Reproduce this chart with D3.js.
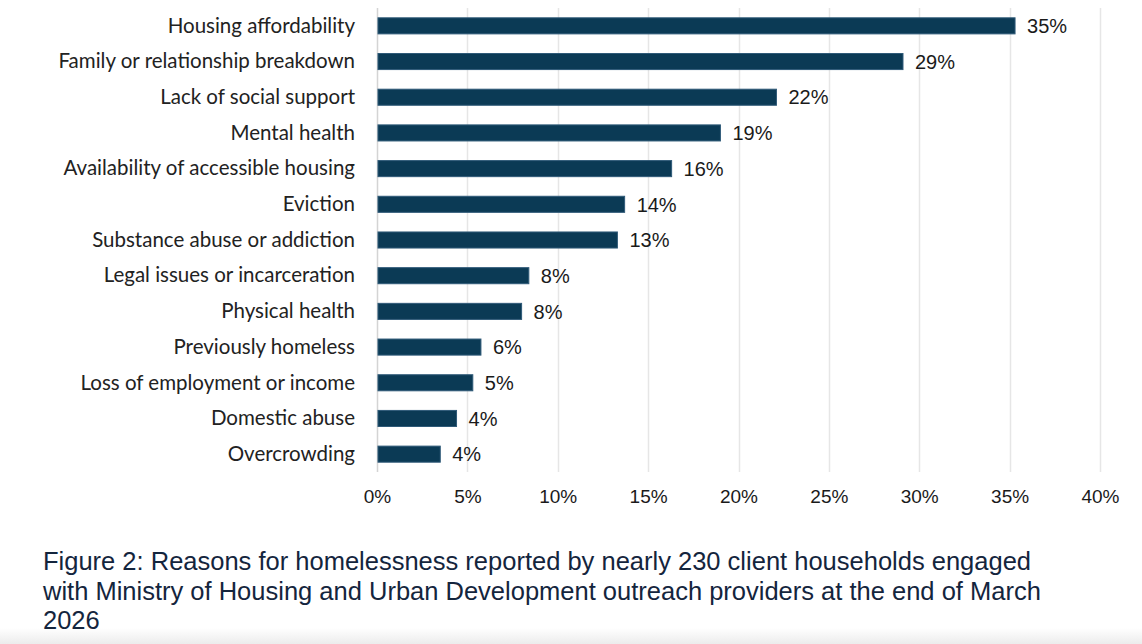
<!DOCTYPE html>
<html>
<head>
<meta charset="utf-8">
<script src="https://cdn.jsdelivr.net/npm/d3@7"></script>
<style>
  body { margin: 0; background: #fff; }
  svg { display: block; }
</style>
</head>
<body>
<div id="chart"></div>
<script>
var svgWidth = 1142;
var svgHeight = 644;

var categories = [
  "Housing affordability",
  "Family or relationship breakdown",
  "Lack of social support",
  "Mental health",
  "Availability of accessible housing",
  "Eviction",
  "Substance abuse or addiction",
  "Legal issues or incarceration",
  "Physical health",
  "Previously homeless",
  "Loss of employment or income",
  "Domestic abuse",
  "Overcrowding"
];
var values = [35.3, 29.1, 22.1, 19.0, 16.3, 13.7, 13.3, 8.4, 8.0, 5.75, 5.3, 4.4, 3.5];
var valueLabels = ["35%", "29%", "22%", "19%", "16%", "14%", "13%", "8%", "8%", "6%", "5%", "4%", "4%"];
var xTicks = [0, 5, 10, 15, 20, 25, 30, 35, 40];

var captionLines = [
  "Figure 2: Reasons for homelessness reported by nearly 230 client households engaged",
  "with Ministry of Housing and Urban Development outreach providers at the end of March",
  "2026"
];

var margin = { top: 8, left: 377, right: 42 };
var plotHeight = 464;
var width = svgWidth - margin.left - margin.right;

var svg = d3.select("#chart")
  .append("svg")
  .attr("width", svgWidth)
  .attr("height", svgHeight);

// faint shadow at the very bottom, like the screenshot
var grad = svg.append("defs").append("linearGradient")
  .attr("id", "fade")
  .attr("x1", 0).attr("y1", 0).attr("x2", 0).attr("y2", 1);
grad.append("stop").attr("offset", "0%").attr("stop-color", "#fff");
grad.append("stop").attr("offset", "100%").attr("stop-color", "#ececec");
svg.append("rect")
  .attr("x", 0).attr("y", 628)
  .attr("width", svgWidth).attr("height", 16)
  .attr("fill", "url(#fade)");

var chartGroup = svg.append("g")
  .attr("transform", `translate(${margin.left}, ${margin.top})`);

var x = d3.scaleLinear()
  .domain([0, 40])
  .range([0, width]);

var y = d3.scaleBand()
  .domain(categories)
  .range([0, plotHeight])
  .paddingInner(0.55)
  .paddingOuter(0.275);

// gridlines
chartGroup.append("g")
  .selectAll("line")
  .data(xTicks)
  .enter()
  .append("line")
  .attr("x1", d => Math.round(x(d)) + 0.5)
  .attr("x2", d => Math.round(x(d)) + 0.5)
  .attr("y1", 0)
  .attr("y2", plotHeight)
  .attr("stroke", d => d === 0 ? "#d4d4d4" : "#e6e6e6")
  .attr("stroke-width", 1.5);

// bars
chartGroup.selectAll("rect.bar")
  .data(values)
  .enter()
  .append("rect")
  .attr("class", "bar")
  .attr("x", x(0) + 1)
  .attr("y", (d, i) => y(categories[i]))
  .attr("width", d => x(d) - x(0) - 1)
  .attr("height", y.bandwidth())
  .attr("fill", "#0b3a55")
  .attr("stroke", "#2f5a78")
  .attr("stroke-width", 1);

// value labels
chartGroup.selectAll("text.val")
  .data(values)
  .enter()
  .append("text")
  .attr("class", "val")
  .attr("x", d => x(d) + 12)
  .attr("y", (d, i) => y(categories[i]) + y.bandwidth() / 2)
  .attr("dy", "0.36em")
  .style("font-family", "'Liberation Sans', Arial, sans-serif")
  .style("font-size", "20px")
  .attr("fill", "#1a1a1a")
  .text((d, i) => valueLabels[i]);

// category labels
chartGroup.selectAll("text.cat")
  .data(categories)
  .enter()
  .append("text")
  .attr("class", "cat")
  .attr("x", -22)
  .attr("y", d => y(d) + y.bandwidth() / 2)
  .attr("dy", "0.33em")
  .attr("text-anchor", "end")
  .style("font-family", "Lato, 'Noto Sans', sans-serif")
  .style("font-size", "20.5px")
  .attr("fill", "#222")
  .text(d => d);

// x axis tick labels
var bottomAxis = d3.axisBottom(x)
  .tickValues(xTicks)
  .tickFormat(d => d + "%")
  .tickSize(0)
  .tickPadding(18);

var axisG = chartGroup.append("g")
  .attr("transform", `translate(0, ${plotHeight})`)
  .call(bottomAxis);
axisG.select(".domain").remove();
axisG.selectAll("text")
  .style("font-family", "'Liberation Sans', Arial, sans-serif")
  .style("font-size", "19px")
  .attr("fill", "#1a1a1a");

// caption
svg.append("g")
  .selectAll("text")
  .data(captionLines)
  .enter()
  .append("text")
  .attr("x", 43)
  .attr("y", (d, i) => 570 + i * 29.5)
  .style("font-family", "'Liberation Sans', Arial, sans-serif")
  .style("font-size", "25.5px")
  .attr("fill", "#14253d")
  .text(d => d);
</script>
</body>
</html>
